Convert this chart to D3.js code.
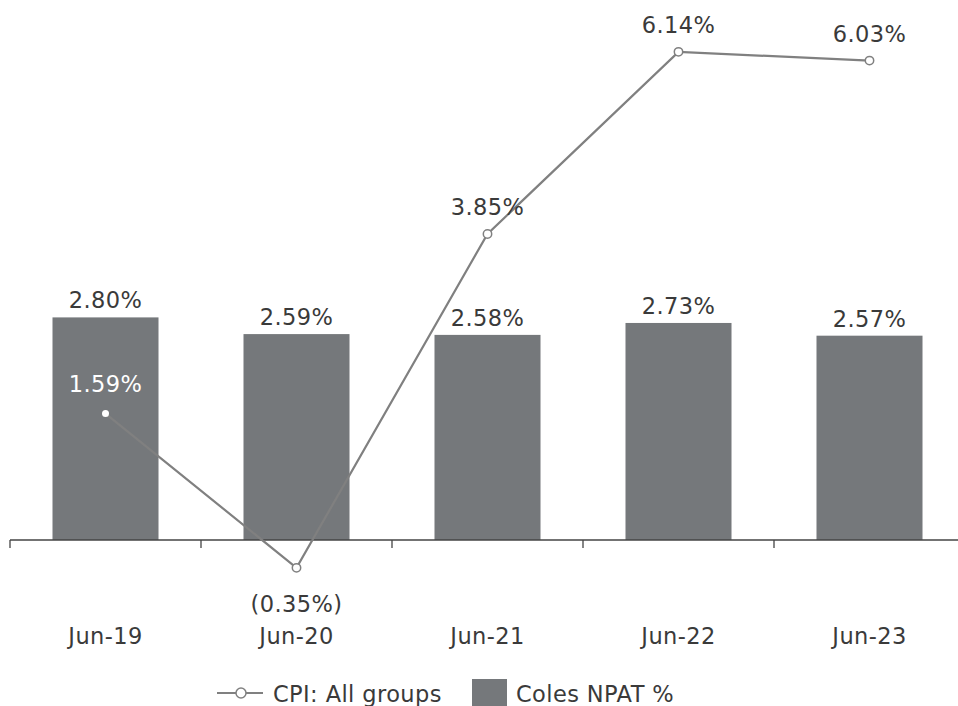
<!DOCTYPE html>
<html><head><meta charset="utf-8">
<script src="https://cdn.jsdelivr.net/npm/d3@7"></script>
<style>body{margin:0;background:#fff}svg{display:block}text{font-family:"DejaVu Sans",sans-serif;letter-spacing:0.4px}</style>
</head><body><svg id="c" width="958" height="706"></svg>
<script>
const categories = ["Jun-19","Jun-20","Jun-21","Jun-22","Jun-23"];
const npat = [2.80, 2.59, 2.58, 2.73, 2.57];
const cpi = [1.59, -0.35, 3.85, 6.14, 6.03];
const npatLabels = ["2.80%","2.59%","2.58%","2.73%","2.57%"];
const cpiLabels = ["1.59%","(0.35%)","3.85%","6.14%","6.03%"];
const seriesNames = ["CPI: All groups","Coles NPAT %"];

const svg = d3.select("#c");
const barColor = "#75787b", lineColor = "#808080", textColor = "#3a3a3a";
const x = d3.scaleBand().domain(categories).range([10, 965]).padding(0);
const y = d3.scaleLinear().domain([0, 1]).range([540, 460.5]);
const bw = x.bandwidth() * 0.555;
const cx = d => x(d) + x.bandwidth() / 2;
const fs = 22.5;

svg.append("g").selectAll("rect").data(categories).join("rect")
  .attr("x", d => cx(d) - bw / 2).attr("width", bw)
  .attr("y", (d, i) => y(npat[i])).attr("height", (d, i) => y(0) - y(npat[i]))
  .attr("fill", barColor);

// axis
const ax = svg.append("g");
ax.append("line").attr("x1", 10).attr("x2", 958).attr("y1", y(0)).attr("y2", y(0))
  .attr("stroke", "#444").attr("stroke-width", 1.3);
ax.selectAll("line.t").data(categories).join("line").attr("class", "t")
  .attr("x1", d => x(d)).attr("x2", d => x(d)).attr("y1", y(0)).attr("y2", y(0) + 8)
  .attr("stroke", "#444").attr("stroke-width", 1.3);
ax.selectAll("text").data(categories).join("text")
  .attr("x", cx).attr("y", 644).attr("text-anchor", "middle")
  .attr("font-size", fs).attr("fill", textColor).text(d => d);

// bar labels
svg.append("g").selectAll("text").data(categories).join("text")
  .attr("x", cx).attr("y", (d, i) => y(npat[i]) - 9).attr("text-anchor", "middle")
  .attr("font-size", fs).attr("fill", textColor).text((d, i) => npatLabels[i]);

// line
const line = d3.line().x((d, i) => cx(categories[i])).y(d => y(d));
svg.append("path").datum(cpi).attr("d", line).attr("fill", "none")
  .attr("stroke", lineColor).attr("stroke-width", 2.2);
svg.append("g").selectAll("circle").data(cpi).join("circle")
  .attr("cx", (d, i) => cx(categories[i])).attr("cy", d => y(d))
  .attr("r", (d, i) => i === 0 ? 3.5 : 4.2)
  .attr("fill", "#fff").attr("stroke", (d, i) => i === 0 ? "none" : lineColor).attr("stroke-width", 1.5);
svg.append("g").selectAll("text").data(cpi).join("text")
  .attr("x", (d, i) => cx(categories[i]))
  .attr("y", (d, i) => d < 0 ? y(d) + 44 : y(d) - (i === 0 ? 22 : 19))
  .attr("text-anchor", "middle").attr("font-size", fs)
  .attr("fill", (d, i) => i === 0 ? "#fff" : textColor).text((d, i) => cpiLabels[i]);

// legend
const lg = svg.append("g");
lg.append("line").attr("x1", 217).attr("x2", 263).attr("y1", 693).attr("y2", 693)
  .attr("stroke", lineColor).attr("stroke-width", 2.2);
lg.append("circle").attr("cx", 241).attr("cy", 693).attr("r", 5)
  .attr("fill", "#fff").attr("stroke", lineColor).attr("stroke-width", 1.5);
lg.append("text").attr("x", 273).attr("y", 702).attr("font-size", fs).attr("fill", textColor).text(seriesNames[0]);
lg.append("rect").attr("x", 472).attr("y", 679).attr("width", 35).attr("height", 35).attr("fill", barColor);
lg.append("text").attr("x", 516).attr("y", 702).attr("font-size", fs).attr("fill", textColor).text(seriesNames[1]);
</script></body></html>
